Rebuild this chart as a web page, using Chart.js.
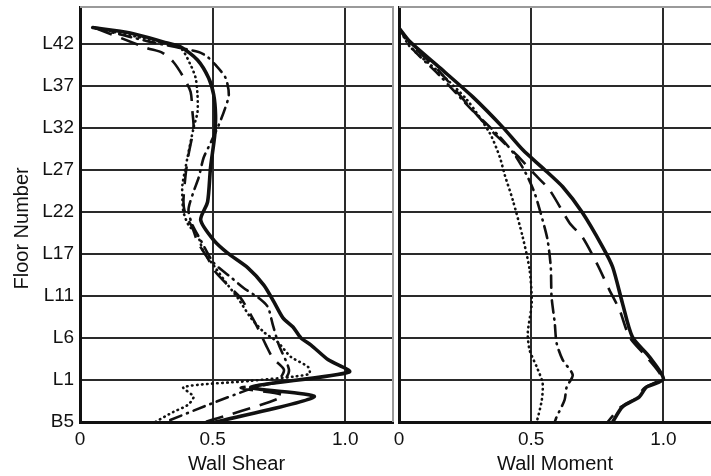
<!DOCTYPE html>
<html><head><meta charset="utf-8">
<script src="https://cdn.jsdelivr.net/npm/chart.js@4.4.1/dist/chart.umd.min.js"></script>
<style>
html,body{margin:0;padding:0;background:#fff;}
#wrap{position:relative;width:711px;height:476px;overflow:hidden;background:#fff;}
canvas{position:absolute;top:0;}
#c1{left:0;}
#c2{left:385px;}
</style></head><body>
<div id="wrap"><canvas id="c1" width="395" height="476"></canvas><canvas id="c2" width="326" height="476"></canvas></div>
<script>
// y positions are floor-label indices: 0 = B5, 1 = L1, ... 9 = L42
const floorLabels = ['B5','L1','L6','L11','L17','L22','L27','L32','L37','L42'];
const floorTicks = [0,1,2,3,4,5,6,7,8,9];
const xTickValues = [0, 0.5, 1];
const xTickLabels = ['0', '0.5', '1.0'];

// Wall Shear series: [value, floor index]
const shearSolid = [[0.048,9.39],[0.189,9.26],[0.314,9.05],[0.379,8.93],[0.443,8.62],[0.485,8.19],[0.504,7.79],[0.511,7.31],[0.508,6.83],[0.492,6.05],[0.481,5.24],[0.455,4.81],[0.504,4.33],[0.557,4.02],[0.633,3.67],[0.693,3.26],[0.731,2.86],[0.765,2.48],[0.803,2.26],[0.833,2.00],[0.871,1.83],[0.936,1.48],[1.015,1.19],[0.644,0.83],[0.883,0.60],[0.511,0.0]];
const shearDashed = [[0.057,9.38],[0.254,8.90],[0.311,8.79],[0.352,8.57],[0.390,8.21],[0.417,7.86],[0.424,7.38],[0.428,7.00],[0.409,6.36],[0.398,5.88],[0.390,5.24],[0.398,4.93],[0.424,4.62],[0.443,4.29],[0.481,3.90],[0.511,3.57],[0.557,3.26],[0.606,2.95],[0.644,2.55],[0.670,2.24],[0.701,1.83],[0.727,1.52],[0.769,1.24],[0.739,0.95],[0.606,0.81],[0.765,0.62],[0.473,0.0]];
const shearDotted = [[0.057,9.38],[0.265,9.10],[0.379,8.90],[0.417,8.50],[0.436,8.19],[0.443,7.79],[0.443,7.38],[0.428,7.00],[0.405,6.29],[0.386,5.64],[0.386,5.33],[0.390,5.00],[0.409,4.69],[0.443,4.45],[0.466,4.05],[0.511,3.67],[0.549,3.33],[0.595,2.95],[0.644,2.48],[0.693,2.14],[0.746,1.90],[0.795,1.55],[0.860,1.31],[0.864,1.14],[0.644,0.98],[0.390,0.83],[0.428,0.60],[0.405,0.40],[0.352,0.24],[0.284,0.0]];
const shearDashDot = [[0.057,9.38],[0.265,9.05],[0.447,8.81],[0.481,8.69],[0.511,8.50],[0.549,8.19],[0.561,7.79],[0.545,7.43],[0.523,7.07],[0.492,6.64],[0.466,6.29],[0.447,5.81],[0.428,5.48],[0.409,5.05],[0.424,4.69],[0.455,4.33],[0.504,3.79],[0.568,3.45],[0.617,3.19],[0.674,2.95],[0.708,2.74],[0.727,2.31],[0.750,1.83],[0.788,1.24],[0.769,1.00],[0.663,0.83],[0.492,0.43],[0.322,0.0]];

// Wall Moment series: [value, floor index]
const momentSolid = [[0.0,9.38],[0.042,9.05],[0.155,8.43],[0.279,7.74],[0.392,7.02],[0.468,6.48],[0.543,6.05],[0.619,5.60],[0.694,4.98],[0.770,4.17],[0.808,3.69],[0.845,2.83],[0.883,2.02],[0.947,1.55],[1.0,1.02],[0.936,0.83],[0.909,0.60],[0.845,0.36],[0.808,0.0]];
const momentDashed = [[0.0,9.38],[0.049,8.98],[0.155,8.33],[0.268,7.50],[0.355,6.90],[0.445,6.36],[0.513,5.90],[0.570,5.52],[0.645,4.74],[0.694,4.40],[0.751,3.74],[0.796,3.14],[0.834,2.67],[0.872,2.02],[0.940,1.52],[0.992,1.05],[0.928,0.81],[0.898,0.57],[0.834,0.33],[0.789,0.0]];
const momentDotted = [[0.0,9.38],[0.042,8.93],[0.155,8.31],[0.257,7.67],[0.343,6.88],[0.381,6.31],[0.400,5.88],[0.430,5.29],[0.468,4.40],[0.494,3.62],[0.502,2.83],[0.487,2.12],[0.494,1.71],[0.521,1.31],[0.543,0.93],[0.540,0.52],[0.521,0.0]];
const momentDashDot = [[0.0,9.38],[0.049,8.90],[0.155,8.24],[0.268,7.48],[0.381,6.79],[0.438,6.36],[0.483,5.88],[0.513,5.45],[0.543,4.81],[0.562,4.33],[0.574,3.69],[0.577,2.98],[0.589,2.36],[0.596,1.88],[0.619,1.48],[0.657,1.12],[0.634,0.83],[0.626,0.52],[0.596,0.12],[0.589,0.0]];

Chart.defaults.font.family = "'Liberation Sans', Arial, Helvetica, sans-serif";
Chart.defaults.color = '#111';

const styles = {
  solid:   {borderWidth:3.6, borderDash:[], borderCapStyle:'round'},
  dashed:  {borderWidth:2.6, borderDash:[18,10], borderCapStyle:'butt'},
  dotted:  {borderWidth:2.6, borderDash:[0.5,4.5], borderCapStyle:'round'},
  dashdot: {borderWidth:2.6, borderDash:[12,6,1,6], borderCapStyle:'round'}
};

function ds(pairs, style) {
  return Object.assign({
    data: pairs.map(p => ({x:p[0], y:p[1]})),
    borderColor:'#111', backgroundColor:'#111',
    pointRadius:0, showLine:true, fill:false, tension:0.25,
    borderJoinStyle:'round'
  }, styles[style]);
}

function framePlugin(drawRight){
  return {
    id:'frame',
    beforeDatasetsDraw(chart){
      const {ctx, chartArea:a} = chart;
      ctx.save();
      ctx.strokeStyle = '#9a9a9a';
      ctx.lineWidth = 2;
      ctx.beginPath();
      ctx.moveTo(a.left, a.top);
      ctx.lineTo(a.right, a.top);
      if (drawRight) ctx.lineTo(a.right, a.bottom);
      ctx.stroke();
      ctx.restore();
    }
  };
}

function makeOptions(isLeft, title){
  return {
    responsive:false, animation:false, devicePixelRatio:1,
    layout:{padding:{top:7, right:isLeft?2:0, left:0, bottom:0}},
    plugins:{legend:{display:false}, tooltip:{enabled:false}},
    scales:{
      x:{
        type:'linear', min:0, max:1.18,
        afterBuildTicks: s => { s.ticks = xTickValues.map(v => ({value:v})); },
        afterFit: s => { s.height = 54; s.paddingLeft = 0; s.paddingRight = 0; },
        ticks:{callback: v => xTickLabels[xTickValues.indexOf(v)], padding:6, color:'#111', font:{size:19}, maxRotation:0, autoSkip:false},
        grid:{color:'#2a2a2a', lineWidth:2, drawTicks:false},
        border:{display:true, color:'#111', width:3},
        title:{display:true, text:title, color:'#111', font:{size:20}, padding:{top:0, bottom:0}}
      },
      y:{
        type:'linear', min:0, max:9.88,
        afterBuildTicks: s => { s.ticks = floorTicks.map(v => ({value:v})); },
        afterFit: s => { s.width = isLeft ? 80 : 14; s.paddingTop = 0; s.paddingBottom = 0; },
        ticks:{display:isLeft, callback: v => floorLabels[floorTicks.indexOf(v)], padding:6, color:'#111', font:{size:19}, autoSkip:false},
        grid:{color:'#2a2a2a', lineWidth:2, drawTicks:false},
        border:{display:true, color:'#111', width:3},
        title:{display:isLeft, text:'Floor Number     ', color:'#111', font:{size:20}, padding:{top:10, bottom:0}}
      }
    }
  };
}

new Chart(document.getElementById('c1'), {
  type:'scatter',
  data:{datasets:[ds(shearDotted,'dotted'), ds(shearDashDot,'dashdot'), ds(shearDashed,'dashed'), ds(shearSolid,'solid')]},
  options: makeOptions(true, 'Wall Shear'),
  plugins:[framePlugin(true)]
});
new Chart(document.getElementById('c2'), {
  type:'scatter',
  data:{datasets:[ds(momentDotted,'dotted'), ds(momentDashDot,'dashdot'), ds(momentDashed,'dashed'), ds(momentSolid,'solid')]},
  options: makeOptions(false, 'Wall Moment'),
  plugins:[framePlugin(false)]
});
</script>
</body></html>
